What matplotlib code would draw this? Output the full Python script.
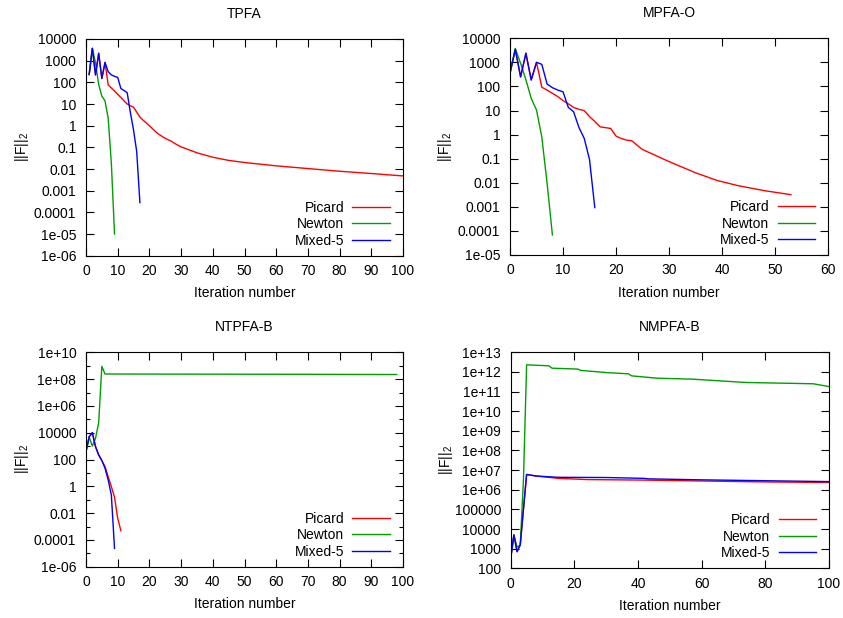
import matplotlib
matplotlib.use("Agg")
import matplotlib.pyplot as plt
from matplotlib.ticker import LogLocator, FuncFormatter, MultipleLocator, NullFormatter

plt.rcParams["font.family"] = ["Liberation Sans", "DejaVu Sans"]
plt.rcParams["mathtext.fontset"] = "custom"
plt.rcParams["mathtext.rm"] = "Liberation Sans"
plt.rcParams["mathtext.it"] = "Liberation Sans:italic"
plt.rcParams["font.size"] = 10

# ---- TPFA ----
tpfa_picard_it = [1, 2, 3, 4, 5, 6, 7, 8, 9, 10, 11, 12, 13, 14, 15, 16, 17, 18, 19, 20,
                  21, 22, 23, 24, 25, 26, 27, 28, 29, 30, 35, 40, 45, 50, 60, 70, 80, 90, 100]
tpfa_picard = [230, 3700, 220, 2200, 150, 830, 76, 55, 40, 28, 20, 14, 10, 8.3, 7.1, 4.2, 2.5,
               1.8, 1.35, 1.0, 0.72, 0.52, 0.4, 0.32, 0.26, 0.22, 0.19, 0.15, 0.126, 0.105,
               0.056, 0.035, 0.025, 0.02, 0.014, 0.0105, 0.0079, 0.0062, 0.0048]
tpfa_newton_it = [1, 2, 3, 4, 5, 6, 7, 8, 9]
tpfa_newton = [230, 3700, 800, 80, 23, 14, 2.2, 0.018, 1e-5]
tpfa_mixed_it = list(range(1, 18))
tpfa_mixed = [230, 3700, 220, 2200, 150, 830, 310, 220, 190, 170, 52, 42, 33, 4.0, 0.63,
              0.063, 0.00028]

# ---- MPFA-O ----
mpfa_picard_it = list(range(0, 26)) + [30, 35, 39, 43, 48, 53]
mpfa_picard = [355, 3470, 250, 2400, 186, 1000, 93, 71, 52, 38, 26, 19, 13.5, 11.2, 10, 5.6,
               3.5, 2.1, 1.95, 1.8, 0.87, 0.69, 0.59, 0.55, 0.36, 0.24,
               0.076, 0.026, 0.0126, 0.0076, 0.0047, 0.0032]
mpfa_newton_it = list(range(0, 9))
mpfa_newton = [355, 3800, 910, 190, 32, 10.5, 0.8, 0.0095, 6.8e-5]
mpfa_mixed_it = list(range(0, 17))
mpfa_mixed = [355, 3470, 250, 2400, 186, 1000, 830, 126, 89, 71, 60, 13.5, 8.9, 2.0, 0.7,
              0.093, 0.00093]

# ---- NTPFA-B ----
ntpfa_picard_it = list(range(0, 12))
ntpfa_picard = [390, 5000, 10000, 910, 220, 83, 30, 5.2, 0.95, 0.15, 0.0041, 0.00049]
ntpfa_newton_it = [0, 1, 2, 3, 4, 5, 6, 30, 60, 98]
ntpfa_newton = [390, 4600, 1000, 3800, 56000, 9e8, 2.4e8, 2.35e8, 2.3e8, 2.2e8]
ntpfa_mixed_it = list(range(0, 10))
ntpfa_mixed = [390, 5000, 10000, 910, 220, 83, 22, 3.0, 0.22, 2.3e-5]

# ---- NMPFA-B ----
nmpfa_picard_it = [0, 1, 2, 3, 4, 5, 8, 15, 24, 42, 80, 100]
nmpfa_picard = [320, 5000, 700, 1550, 1e5, 6e6, 5e6, 3.8e6, 3.3e6, 3.1e6, 2.5e6, 2.35e6]
nmpfa_newton_it = [0, 1, 2, 3, 4, 5, 12, 13, 21, 22, 30, 37, 38, 46, 57, 74, 95, 100]
nmpfa_newton = [320, 5000, 1200, 1550, 3e6, 2.3e12, 2.05e12, 1.55e12, 1.4e12, 1.2e12,
                9.3e11, 8e11, 6.3e11, 4.8e11, 4.3e11, 2.9e11, 2.5e11, 1.8e11]
nmpfa_mixed_it = [0, 1, 2, 3, 4, 5, 8, 15, 30, 42, 43, 60, 100]
nmpfa_mixed = [320, 5000, 700, 1550, 1e5, 6e6, 5e6, 4.3e6, 4.2e6, 3.8e6, 3.6e6, 3.2e6, 2.6e6]

labels = ["Picard", "Newton", "Mixed-5"]
colors = ["#ff0000", "#009e00", "#0000ff"]

panels = [
    ("TPFA", [86, 403, 39, 255.7], (0, 100), 10, (1e-6, 1e4), 10,
     [(tpfa_picard_it, tpfa_picard), (tpfa_newton_it, tpfa_newton), (tpfa_mixed_it, tpfa_mixed)]),
    ("MPFA-O", [510, 828, 38.3, 255], (0, 60), 10, (1e-5, 1e4), 10,
     [(mpfa_picard_it, mpfa_picard), (mpfa_newton_it, mpfa_newton), (mpfa_mixed_it, mpfa_mixed)]),
    ("NTPFA-B", [86, 403, 352.3, 566.7], (0, 100), 10, (1e-6, 1e10), 100,
     [(ntpfa_picard_it, ntpfa_picard), (ntpfa_newton_it, ntpfa_newton), (ntpfa_mixed_it, ntpfa_mixed)]),
    ("NMPFA-B", [510.7, 829, 352.3, 568.3], (0, 100), 20, (1e2, 1e13), 10,
     [(nmpfa_picard_it, nmpfa_picard), (nmpfa_newton_it, nmpfa_newton), (nmpfa_mixed_it, nmpfa_mixed)]),
]

W, H = 843, 618
fig = plt.figure(figsize=(W / 100, H / 100), dpi=100)

for title, (x0, x1, yt, yb), xlim, xstep, ylim, ybase, series in panels:
    ax = fig.add_axes([x0 / W, 1 - yb / H, (x1 - x0) / W, (yb - yt) / H])
    for (it, vals), lab, col in zip(series, labels, colors):
        ax.plot(it, vals, color=col, lw=1.0, label=lab)
    ax.set_yscale("log")
    ax.set_xlim(*xlim)
    ax.set_ylim(*ylim)
    ax.xaxis.set_major_locator(MultipleLocator(xstep))
    ax.yaxis.set_major_locator(LogLocator(base=ybase, numticks=30))
    if ybase == 100:
        ax.yaxis.set_minor_locator(LogLocator(base=10, subs=(1.0,), numticks=30))
    else:
        ax.yaxis.set_minor_locator(LogLocator(base=10, subs=(), numticks=30))
    ax.yaxis.set_major_formatter(FuncFormatter(lambda v, p: "%g" % v))
    ax.yaxis.set_minor_formatter(NullFormatter())
    ax.tick_params(which="both", direction="in", top=True, right=True, width=0.8)
    ax.tick_params(which="major", length=5.5)
    ax.tick_params(which="minor", length=3)
    ax.tick_params(axis="x", which="major", pad=6)
    ax.tick_params(axis="y", which="major", pad=7)
    for s in ax.spines.values():
        s.set_linewidth(0.8)
    ax.set_title(title, pad=15, fontsize=10)
    ax.set_xlabel("Iteration number", labelpad=6)
    ax.set_ylabel("||F||$_2$")
    ax.yaxis.set_label_coords(-0.175, 0.5)
    leg = ax.legend(loc="lower right", bbox_to_anchor=(1 - 13 / (x1 - x0), 8 / (yb - yt)),
                    frameon=False, markerfirst=False, borderpad=0, borderaxespad=0,
                    handlelength=2.7, handletextpad=0.6, labelspacing=0.18)
    for col_box in leg._legend_handle_box.get_children():
        col_box.align = "right"

fig.savefig("out.png", dpi=100)
